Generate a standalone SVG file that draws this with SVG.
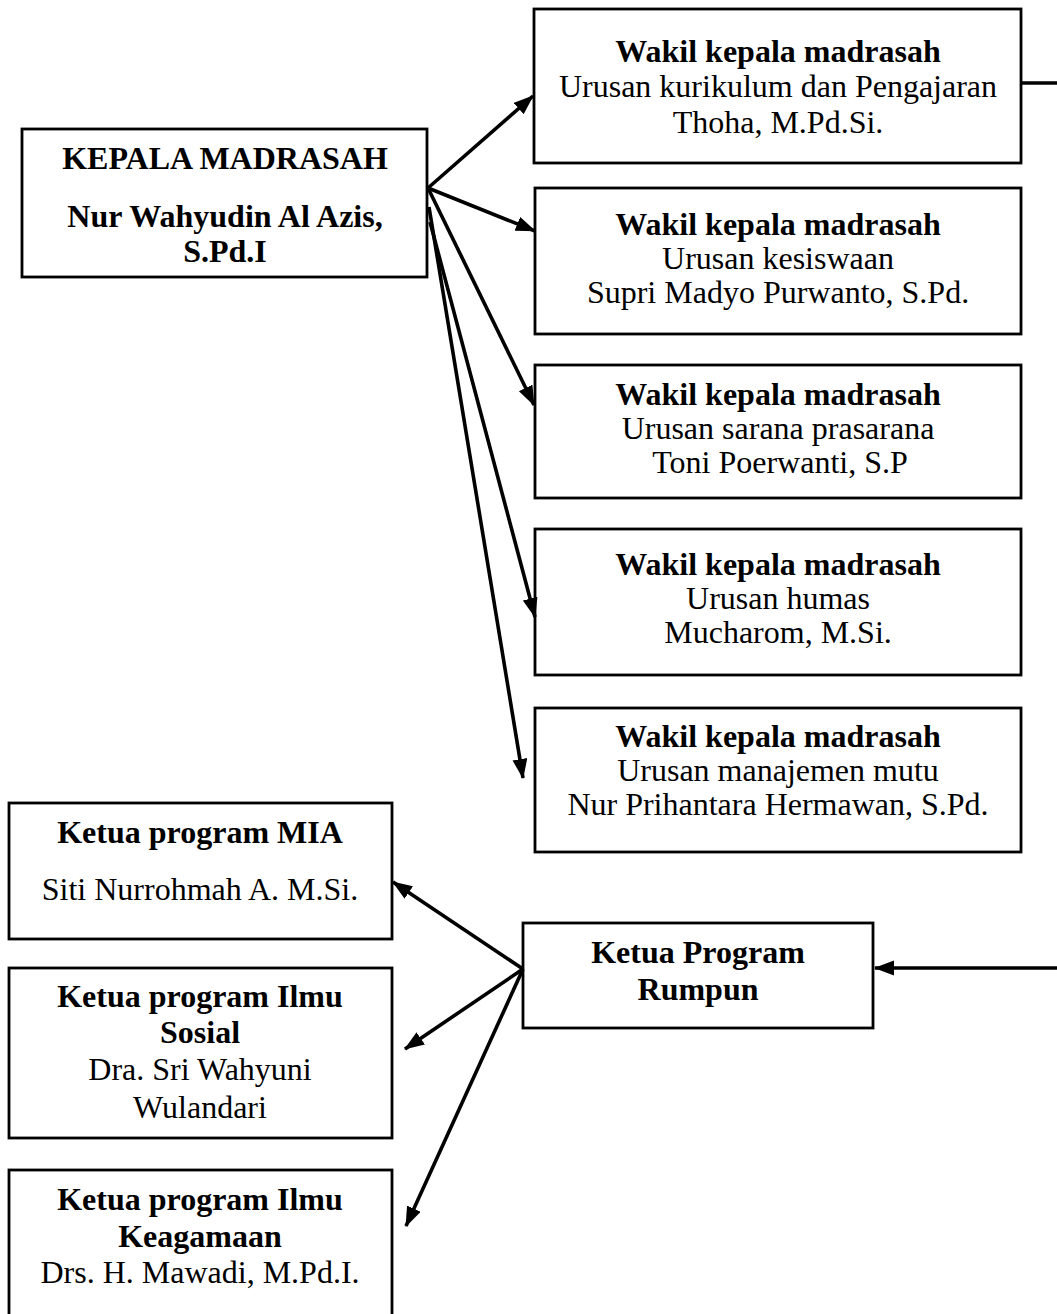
<svg xmlns="http://www.w3.org/2000/svg" width="1057" height="1314" viewBox="0 0 1057 1314">
<style>
.box{fill:#fff;stroke:#000;stroke-width:2.8}
text{font-family:"Liberation Serif","Times New Roman",serif;font-size:32px;fill:#000;text-anchor:middle}
.b{font-weight:bold}
.ln{stroke:#000;stroke-width:3.6;fill:none}
</style>
<defs>
<marker id="ah" markerUnits="userSpaceOnUse" markerWidth="22" markerHeight="16" refX="19" refY="7.5" orient="auto">
<path d="M0,0 L20,7.5 L0,15 z" fill="#000"/>
</marker>
</defs>
<rect width="1057" height="1314" fill="#fff"/>
<g id="kepala">
<rect class="box" x="22" y="129" width="405" height="148"/>
<text class="b" x="225" y="169">KEPALA MADRASAH</text>
<text class="b" x="225" y="227">Nur Wahyudin Al Azis,</text>
<text class="b" x="225" y="262">S.Pd.I</text>
</g>
<g id="wakil1">
<rect class="box" x="534" y="9" width="487" height="154"/>
<text class="b" x="778" y="62">Wakil kepala madrasah</text>
<text x="778" y="97">Urusan kurikulum dan Pengajaran</text>
<text x="778" y="133">Thoha, M.Pd.Si.</text>
</g>
<g id="wakil2">
<rect class="box" x="535" y="188" width="486" height="146"/>
<text class="b" x="778" y="235">Wakil kepala madrasah</text>
<text x="778" y="269">Urusan kesiswaan</text>
<text x="778" y="303">Supri Madyo Purwanto, S.Pd.</text>
</g>
<g id="wakil3">
<rect class="box" x="535" y="365" width="486" height="133"/>
<text class="b" x="778" y="405">Wakil kepala madrasah</text>
<text x="778" y="439">Urusan sarana prasarana</text>
<text x="780" y="473">Toni Poerwanti, S.P</text>
</g>
<g id="wakil4">
<rect class="box" x="535" y="529" width="486" height="146"/>
<text class="b" x="778" y="575">Wakil kepala madrasah</text>
<text x="778" y="609">Urusan  humas</text>
<text x="778" y="643">Mucharom, M.Si.</text>
</g>
<g id="wakil5">
<rect class="box" x="535" y="708" width="486" height="144"/>
<text class="b" x="778" y="747">Wakil kepala madrasah</text>
<text x="778" y="781">Urusan manajemen mutu</text>
<text x="778" y="815">Nur Prihantara Hermawan, S.Pd.</text>
</g>
<g id="mia">
<rect class="box" x="9" y="803" width="383" height="136"/>
<text class="b" x="200" y="843">Ketua program MIA</text>
<text x="200" y="900">Siti Nurrohmah A. M.Si.</text>
</g>
<g id="sosial">
<rect class="box" x="9" y="968" width="383" height="170"/>
<text class="b" x="200" y="1007">Ketua program Ilmu</text>
<text class="b" x="200" y="1043">Sosial</text>
<text x="200" y="1080">Dra. Sri Wahyuni</text>
<text x="200" y="1118">Wulandari</text>
</g>
<g id="keagamaan">
<rect class="box" x="9" y="1170" width="383" height="150"/>
<text class="b" x="200" y="1210">Ketua program Ilmu</text>
<text class="b" x="200" y="1247">Keagamaan</text>
<text x="200" y="1283">Drs. H. Mawadi, M.Pd.I.</text>
</g>
<g id="rumpun">
<rect class="box" x="523" y="923" width="350" height="105"/>
<text class="b" x="698" y="963">Ketua Program</text>
<text class="b" x="698" y="1000">Rumpun</text>
</g>
<g id="connectors">
<line class="ln" x1="428" y1="188" x2="533" y2="96" marker-end="url(#ah)"/>
<line class="ln" x1="428" y1="188" x2="535" y2="231" marker-end="url(#ah)"/>
<line class="ln" x1="428" y1="188" x2="534" y2="405" marker-end="url(#ah)"/>
<line class="ln" x1="430" y1="222" x2="535" y2="617" marker-end="url(#ah)"/>
<line class="ln" x1="429" y1="207" x2="523" y2="778" marker-end="url(#ah)"/>
<line class="ln" x1="1021" y1="83" x2="1057" y2="83"/>
<line class="ln" x1="1057" y1="968" x2="875" y2="968" marker-end="url(#ah)"/>
<line class="ln" x1="523" y1="969" x2="393" y2="882" marker-end="url(#ah)"/>
<line class="ln" x1="523" y1="969" x2="405" y2="1049" marker-end="url(#ah)"/>
<line class="ln" x1="523" y1="969" x2="406" y2="1226" marker-end="url(#ah)"/>
</g>
</svg>
